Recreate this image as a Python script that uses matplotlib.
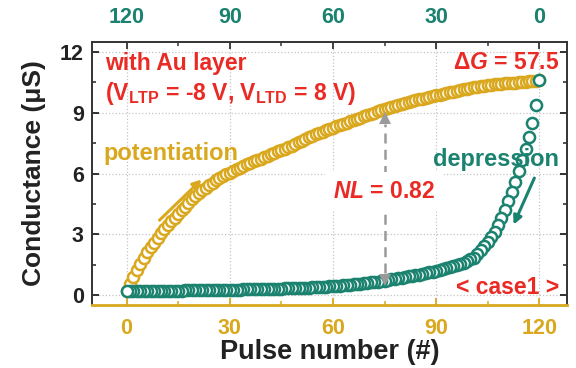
import numpy as np
import matplotlib
matplotlib.use("Agg")
import matplotlib.pyplot as plt
from matplotlib.ticker import MultipleLocator

plt.rcParams['font.family'] = ['Liberation Sans', 'DejaVu Sans']
plt.rcParams['font.weight'] = 'bold'
plt.rcParams['mathtext.fontset'] = 'custom'
plt.rcParams['mathtext.rm'] = 'Liberation Sans:bold'
plt.rcParams['mathtext.bf'] = 'Liberation Sans:bold'
plt.rcParams['mathtext.it'] = 'Liberation Sans:bold:italic'

# potentiation, pulse 0..120 (bottom axis)
pot_pulse = np.arange(121)
pot_G = [
    0.18, 0.56, 0.90, 1.22, 1.53, 1.82, 2.10, 2.35, 2.59, 2.83,
    3.05, 3.25, 3.45, 3.64, 3.82, 4.00, 4.19, 4.37, 4.55, 4.73,
    4.90, 5.04, 5.17, 5.30, 5.43, 5.55, 5.66, 5.76, 5.86, 5.96,
    6.05, 6.13, 6.21, 6.29, 6.37, 6.45, 6.53, 6.60, 6.67, 6.74,
    6.81, 6.88, 6.95, 7.02, 7.09, 7.16, 7.23, 7.30, 7.38, 7.46,
    7.54, 7.62, 7.70, 7.78, 7.86, 7.93, 8.00, 8.07, 8.13, 8.20,
    8.26, 8.33, 8.39, 8.45, 8.51, 8.58, 8.64, 8.70, 8.76, 8.83,
    8.89, 8.95, 9.01, 9.08, 9.14, 9.20, 9.25, 9.29, 9.34, 9.38,
    9.43, 9.48, 9.52, 9.57, 9.61, 9.66, 9.70, 9.75, 9.79, 9.82,
    9.86, 9.90, 9.94, 9.97, 10.01, 10.05, 10.09, 10.12, 10.16, 10.20,
    10.22, 10.25, 10.27, 10.30, 10.32, 10.35, 10.37, 10.40, 10.42, 10.43,
    10.45, 10.46, 10.48, 10.49, 10.51, 10.52, 10.54, 10.55, 10.57, 10.58,
    10.60,
]

# depression, pulse 0..120 (top axis)
dep_pulse = np.arange(121)
dep_G = [
    10.60, 9.40, 8.50, 7.80, 7.20, 6.65, 6.10, 5.60, 5.10, 4.65,
    4.20, 3.80, 3.45, 3.12, 2.85, 2.60, 2.40, 2.20, 2.02, 1.85,
    1.76, 1.68, 1.60, 1.53, 1.47, 1.41, 1.36, 1.31, 1.27, 1.23,
    1.19, 1.15, 1.11, 1.07, 1.04, 1.01, 0.98, 0.95, 0.92, 0.89,
    0.86, 0.83, 0.80, 0.77, 0.74, 0.71, 0.68, 0.66, 0.64, 0.62,
    0.60, 0.58, 0.56, 0.54, 0.52, 0.51, 0.49, 0.48, 0.46, 0.45,
    0.44, 0.42, 0.41, 0.40, 0.39, 0.38, 0.37, 0.36, 0.35, 0.35,
    0.34, 0.33, 0.33, 0.32, 0.32, 0.31, 0.31, 0.30, 0.30, 0.29,
    0.29, 0.28, 0.28, 0.28, 0.27, 0.27, 0.27, 0.26, 0.26, 0.26,
    0.25, 0.25, 0.25, 0.24, 0.24, 0.24, 0.23, 0.23, 0.23, 0.23,
    0.22, 0.22, 0.22, 0.22, 0.21, 0.21, 0.21, 0.21, 0.20, 0.20,
    0.20, 0.20, 0.20, 0.19, 0.19, 0.19, 0.19, 0.19, 0.18, 0.18,
    0.18,
]

bottom_ticks = [0, 30, 60, 90, 120]
top_ticks = [120, 90, 60, 30, 0]
y_ticks = [0, 3, 6, 9, 12]
nl_pulse = 75
nl_value = 0.82
delta_G = 57.5

gold = '#d9a81e'
teal = '#1b8270'
red = '#ea2a24'
dark = '#222222'

fig = plt.figure(figsize=(5.76, 3.68), dpi=100)
ax = fig.add_axes([0.16, 0.171, 0.824, 0.715])
ax.set_xlim(-10, 128)
ax.set_ylim(-0.5, 12.5)

ax.plot(pot_pulse, pot_G, 'o', ms=8, mew=1.8, mfc='white', mec=gold, zorder=3)

ax.set_xticks(bottom_ticks)
ax.xaxis.set_minor_locator(MultipleLocator(15))
ax.set_yticks(y_ticks)
ax.yaxis.set_minor_locator(MultipleLocator(1.5))
ax.tick_params(axis='x', which='both', direction='in', colors=gold, labelsize=15.5, pad=9)
ax.tick_params(axis='x', which='major', length=5, width=1.3)
ax.tick_params(axis='x', which='minor', length=3, width=1.1)
ax.tick_params(axis='y', which='both', direction='in', right=True, colors=dark,
               labelsize=15.5, pad=6)
ax.tick_params(axis='y', which='major', length=5, width=1.3)
ax.tick_params(axis='y', which='minor', length=3, width=1.1)
ax.grid(True, which='major', ls=':', color='#c4c4c4', lw=0.9)
ax.set_axisbelow(True)

for side in ['left', 'right']:
    ax.spines[side].set_color('#333333')
    ax.spines[side].set_linewidth(1.4)
ax.spines['bottom'].set_color(gold)
ax.spines['bottom'].set_linewidth(2)
ax.spines['top'].set_visible(False)

ax.set_xlabel('Pulse number (#)', fontsize=19.5, fontweight='bold', color=dark, labelpad=0)
ax.set_ylabel('Conductance (μS)', fontsize=19, fontweight='bold', color=dark, labelpad=10)

# depression runs on the reversed top axis
ax2 = ax.twiny()
ax2.set_xlim(120 - (-10), 120 - 128)
ax2.plot(dep_pulse, dep_G, 'o', ms=8, mew=1.8, mfc='white', mec=teal, zorder=3)
ax2.set_xticks(top_ticks)
ax2.xaxis.set_minor_locator(MultipleLocator(15))
ax2.tick_params(axis='x', which='both', direction='in', color='#333333', labelcolor=teal,
                labelsize=15.5, pad=10)
ax2.tick_params(axis='x', which='major', length=5, width=1.3)
ax2.tick_params(axis='x', which='minor', length=3, width=1.1)
for side in ['left', 'right', 'bottom']:
    ax2.spines[side].set_visible(False)
ax2.spines['top'].set_color('#333333')
ax2.spines['top'].set_linewidth(1.4)

td = ax.transData
ax2.text(-6.2, 11.45, 'with Au layer', color=red, fontsize=16.5, ha='left', va='center',
         transform=td, zorder=5)
ax2.text(-6.2, 9.95, r'(V$_{\mathrm{LTP}}$ = -8 V, V$_{\mathrm{LTD}}$ = 8 V)', color=red,
         fontsize=16.5, ha='left', va='center', transform=td, zorder=5)
ax2.text(125.8, 11.5, r'$\Delta G$ = ' + f'{delta_G}', color=red, fontsize=16.5,
         ha='right', va='center', transform=td, zorder=5)
ax2.text(-6.8, 7.0, 'potentiation', color=gold, fontsize=17, ha='left', va='center',
         transform=td, zorder=5)
ax2.text(125.8, 6.7, 'depression', color=teal, fontsize=17, ha='right', va='center',
         transform=td, zorder=5)
ax2.text(110.8, 0.35, '< case1 >', color=red, fontsize=16.5, ha='center', va='center',
         transform=td, zorder=5)

# non-linearity marker between the two branches
y_top = pot_G[nl_pulse] - 0.45
y_bot = dep_G[120 - nl_pulse] + 0.05
ax2.plot([nl_pulse, nl_pulse], [y_bot + 0.3, y_top - 0.3], ls=(0, (4, 2.5)), color='#9a9a9a',
         lw=1.8, transform=td, zorder=4)
ax2.plot([nl_pulse], [y_top], marker='^', ms=9, color='#9a9a9a', mew=0, transform=td, zorder=4)
ax2.plot([nl_pulse], [y_bot], marker='v', ms=9, color='#9a9a9a', mew=0, transform=td, zorder=4)
ax2.text(nl_pulse, 5.1, r'$NL$ = ' + f'{nl_value}', color=red, fontsize=16.5, ha='center',
         va='center', transform=td, zorder=5,
         bbox=dict(boxstyle='square,pad=0.35', fc='white', ec='none'))

# direction arrows
ax2.annotate('', xy=(22.4, 5.8), xytext=(9, 3.6), xycoords=td, textcoords=td,
             arrowprops=dict(arrowstyle='-|>,head_length=0.5,head_width=0.25', color=gold, lw=2.2),
             zorder=5)
ax2.annotate('', xy=(112.2, 3.35), xytext=(118.9, 5.9), xycoords=td, textcoords=td,
             arrowprops=dict(arrowstyle='-|>,head_length=0.5,head_width=0.25', color=teal, lw=2.2),
             zorder=5)

fig.savefig('out.png', dpi=100)
